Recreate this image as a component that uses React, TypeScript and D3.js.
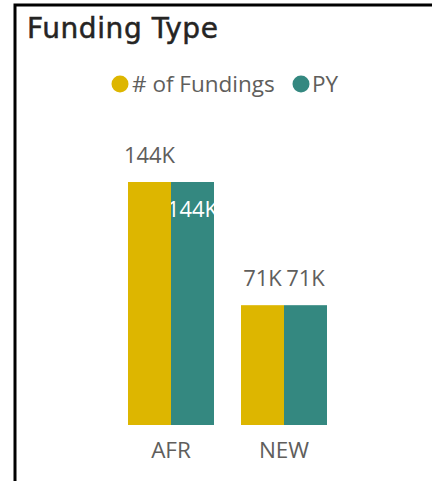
import React from 'react';
import * as d3 from 'd3';

const categories = ['AFR', 'NEW'];
const seriesNames = ['# of Fundings', 'PY'];
const fundings = [144, 71];
const priorYear = [144, 71];
const seriesColors = ['#DDB600', '#348880'];

const W = 432;
const H = 481;

const fmt = (v: number) => `${v}K`;

const App = () => {
    const series = [fundings, priorYear];

    // group scale and the sub-scale inside each group
    const x0 = d3.scaleBand<string>()
        .domain(categories)
        .range([128, 327])
        .paddingInner(0.239)
        .paddingOuter(0);
    const x1 = d3.scaleBand<number>()
        .domain(d3.range(seriesNames.length))
        .range([0, x0.bandwidth()]);
    const y = d3.scaleLinear()
        .domain([0, d3.max(series.flat()) as number])
        .range([425, 182]);

    const labelFont = "'Open Sans', 'Segoe UI', sans-serif";

    return (
        <svg width={W} height={H} style={{ position: 'absolute', left: 0, top: 0, background: '#fff' }}>
            <defs>
                {categories.map((c, ci) => series.map((s, si) => (
                    <clipPath id={`clip-${ci}-${si}`} key={`${ci}-${si}`}>
                        <rect x={(x0(c) as number) + (x1(si) as number)} y={y(s[ci])}
                            width={x1.bandwidth()} height={y(0) - y(s[ci])} />
                    </clipPath>
                )))}
            </defs>

            {/* frame */}
            <rect x={15} y={5} width={W + 10} height={H + 10} fill="none" stroke="#000" strokeWidth={3} />

            <text x={27} y={38} fontFamily="'DejaVu Sans', sans-serif" fontSize={28} letterSpacing={0.6}
                fill="#252423" stroke="#252423" strokeWidth={0.5}>Funding Type</text>

            {/* legend */}
            <g fontFamily={labelFont} fontSize={22.5} fill="#605E5C">
                <circle cx={120} cy={84} r={8.5} fill={seriesColors[0]} />
                <text x={132} y={92}>{seriesNames[0]}</text>
                <circle cx={301} cy={84} r={8.5} fill={seriesColors[1]} />
                <text x={312} y={92}>{seriesNames[1]}</text>
            </g>

            {/* bars */}
            {categories.map((c, ci) => (
                <g key={c} transform={`translate(${x0(c)},0)`}>
                    {series.map((s, si) => (
                        <rect key={si} x={x1(si)} y={y(s[ci])} width={x1.bandwidth()}
                            height={y(0) - y(s[ci])} fill={seriesColors[si]} />
                    ))}
                </g>
            ))}

            {/* data labels */}
            {categories.map((c, ci) => series.map((s, si) => {
                const label = fmt(s[ci]);
                const cx = (x0(c) as number) + (x1(si) as number) + x1.bandwidth() / 2;
                // wide labels of the second series would collide, so they go inside the bar
                const inside = si > 0 && label.length > 3;
                return (
                    <text key={`${ci}-${si}`} x={cx} y={inside ? y(s[ci]) + 35 : y(s[ci]) - 19}
                        textAnchor="middle" fontFamily={labelFont} fontSize={22}
                        fill={inside ? '#fff' : '#605E5C'}
                        clipPath={inside ? `url(#clip-${ci}-${si})` : undefined}>
                        {label}
                    </text>
                );
            }))}

            {/* category axis */}
            {categories.map(c => (
                <text key={c} x={(x0(c) as number) + x0.bandwidth() / 2} y={458} textAnchor="middle"
                    fontFamily={labelFont} fontSize={22.5} fill="#605E5C">{c}</text>
            ))}
        </svg>
    );
};

export default App;
